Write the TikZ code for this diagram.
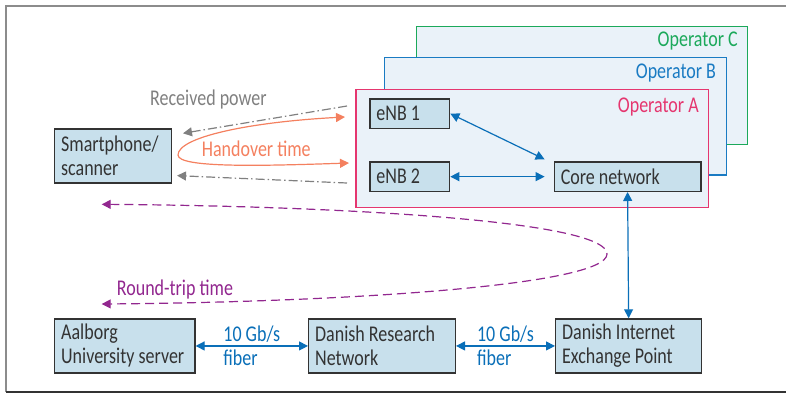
\documentclass[tikz,border=0pt]{standalone}
\usepackage{fontspec}
\setmainfont[FakeStretch=0.8]{Carlito}
\usetikzlibrary{arrows.meta, positioning}
\definecolor{boxfill}{HTML}{C8E0EC}
\definecolor{opfill}{HTML}{EAF2F9}
\definecolor{opa}{HTML}{E5366F}
\definecolor{opb}{HTML}{1A7BC3}
\definecolor{opc}{HTML}{1CA95B}
\definecolor{linkblue}{HTML}{0A6FB8}
\definecolor{hocol}{HTML}{F4805F}
\definecolor{rttcol}{HTML}{92278F}
\definecolor{txt}{HTML}{333333}

\begin{document}
\begin{tikzpicture}[x=1pt, y=-1pt, font=\fontsize{22.5}{24}\selectfont,
    >={Triangle[length=9pt, width=9pt]},
    box/.style={draw=txt, fill=boxfill, line width=1.3pt, text=txt, align=flush left, inner xsep=6.5pt, inner ysep=0pt},
    big/.style={box, minimum height=54pt},
    small/.style={box, minimum height=29.4pt},
    operator/.style={draw=#1, fill=opfill, line width=1.2pt, anchor=north west, inner sep=0pt},
    oplabel/.style={anchor=base east, text=#1, inner sep=0pt},
    link/.style={<->, draw=linkblue, line width=1.2pt},
    rate/.style={midway, text=linkblue, align=flush left, inner sep=0pt},
    power/.style={->, gray, line width=1.2pt, dash pattern=on 9pt off 3pt on 1.5pt off 3pt}]
  \useasboundingbox (0,0) rectangle (786,394);
  \draw[gray!90, line width=1.5pt] (786,6) -- (6,6) -- (6,392);
  \draw[txt, line width=1.2pt] (6,392) -- (786,392);

  \node[operator=opc, minimum width=331pt, minimum height=118pt] (opC) at (415.7,26) {};
  \node[oplabel=opc] (labC) at ([xshift=-10pt, yshift=-20pt]opC.north east) {Operator C};
  \node[operator=opb, minimum width=341.7pt, minimum height=117.6pt] (opB) at (384,56.7) {};
  \node[oplabel=opb] (labB) at ([xshift=-10.7pt, yshift=-21.6pt]opB.north east) {Operator B};
  \node[operator=opa, minimum width=352.4pt, minimum height=117.7pt] (opA) at (355.3,89) {};
  \node[oplabel=opa] (labA) at ([xshift=-10pt, yshift=-23.3pt]opA.north east) {Operator A};

  \node[small, anchor=north west, text width=66.7pt] (enb1) at (369.3,98.3) {eNB 1};
  \node[small, text width=66.7pt, below=32.3pt of enb1] (enb2) {eNB 2};
  \node[small, text width=133.7pt, right=103.3pt of enb2] (core) {Core network};
  \node[big, anchor=north west, text width=103.7pt] (phone) at (54,128.3) {Smartphone/\\scanner};
  \node[big, anchor=north west, text width=127.3pt] (aau) at (54,318.3) {Aalborg\\University server};
  \node[big, text width=133.7pt, right=112.4pt of aau] (drn) {Danish Research\\Network};
  \node[big, text width=133pt, right=99pt of drn] (dix) {Danish Internet\\Exchange Point};

  \draw[link] (enb1.east) -- ([xshift=-9pt, yshift=2pt]core.north west);
  \draw[link, shorten >=9pt] (enb2.east) -- (core.west);
  \draw[link] (core.south) -- (dix.north);
  \draw[link] (aau.east) -- node[rate] (r1) {10 Gb/s\\fiber} (drn.west);
  \draw[link] (drn.east) -- node[rate] (r2) {10 Gb/s\\fiber} (dix.west);

  \coordinate (rp1) at (347,106);
  \coordinate (rp2) at (347,183);
  \draw[power] (rp1) -- ([xshift=11pt, yshift=-5pt]phone.north east);
  \draw[power] (rp2) -- ([xshift=5pt, yshift=8pt]phone.south east);
  \node[text=gray, anchor=base west, inner sep=0pt] (rp) at (150,105) {Received power};

  \coordinate (ho1) at (345,117);
  \coordinate (ho2) at (349,163);
  \coordinate (hoL) at (178,155);
  \draw[<->, hocol, line width=1.2pt] (ho1) .. controls (250,122) and (178,137) .. (hoL)
    .. controls (178,168) and (260,166) .. (ho2);
  \node[text=hocol, anchor=base west, inner sep=0pt] (ho) at (201.7,156.7) {Handover time};

  \coordinate (rt1) at (101.7,204.3);
  \coordinate (rt2) at (101.7,304);
  \coordinate (rtR) at (607,254);
  \draw[<->, rttcol, line width=1.2pt, dash pattern=on 9pt off 5pt] (rt1) .. controls (330,206) and (607,220) .. (rtR)
    .. controls (607,285) and (350,302) .. (rt2);
  \node[text=rttcol, anchor=base west, inner sep=0pt] (rt) at (116.7,295) {Round-trip time};
\end{tikzpicture}
\end{document}
